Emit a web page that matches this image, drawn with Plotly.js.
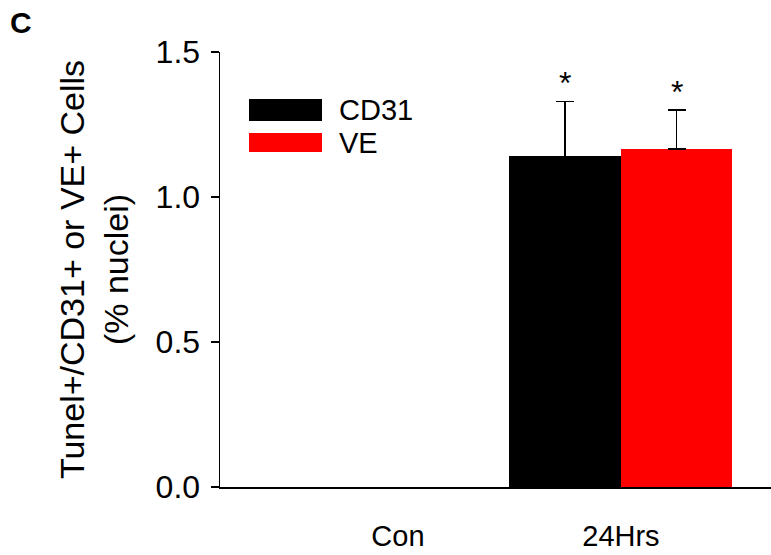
<!DOCTYPE html>
<html>
<head>
<meta charset="utf-8">
<script src="https://cdn.plot.ly/plotly-3.0.1.min.js"></script>
<style>html,body{margin:0;padding:0;background:#fff;}#chart{width:771px;height:555px;}</style>
</head>
<body>
<div id="chart"></div>
<script>
const categories = ["Con", "24Hrs"];
const seriesNames = ["CD31", "VE"];
const cd31Values = [0, 1.14];
const cd31Errors = [NaN, 0.19];
const veValues = [0, 1.165];
const veErrors = [NaN, 0.135];
const significance = ["", "*"];
const yTicks = [0, 0.5, 1.0, 1.5];
const yTickLabels = ["0.0", "0.5", "1.0", "1.5"];

const FONT = "Arial, 'Liberation Sans', sans-serif";
const xIdx = categories.map((c, i) => i);

const traces = [
  {
    type: "bar", name: seriesNames[0], x: xIdx, y: cd31Values,
    marker: {color: "#000000", line: {width: 0}},
    error_y: {type: "data", symmetric: false, array: cd31Errors, arrayminus: cd31Errors.map(e => isNaN(e) ? NaN : 0),
      color: "#000", thickness: 1.5, width: 9},
    showlegend: false
  },
  {
    type: "bar", name: seriesNames[1], x: xIdx, y: veValues,
    marker: {color: "#ff0000", line: {width: 0}},
    error_y: {type: "data", symmetric: false, array: veErrors, arrayminus: veErrors.map(e => isNaN(e) ? NaN : 0),
      color: "#000", thickness: 1.5, width: 9},
    showlegend: false
  }
];

const L = 220, T = 52, W = 551, H = 435;
const annotations = [];
xIdx.forEach((xi, i) => {
  if (significance[i]) {
    annotations.push({x: xi - 0.25, y: cd31Values[i] + cd31Errors[i], xref: "x", yref: "y",
      text: significance[i], showarrow: false, yanchor: "bottom", yshift: -2, font: {family: FONT, size: 32, color: "#000"}});
    annotations.push({x: xi + 0.25, y: veValues[i] + veErrors[i], xref: "x", yref: "y",
      text: significance[i], showarrow: false, yanchor: "bottom", yshift: -2, font: {family: FONT, size: 32, color: "#000"}});
  }
});
// panel label
annotations.push({x: (21 - L) / W, y: (T + H - 22) / H, xref: "paper", yref: "paper", xanchor: "center", yanchor: "middle",
  text: "<b>C</b>", showarrow: false, font: {family: FONT, size: 30, color: "#000"}});

// legend keys and labels
const legColors = ["#000000", "#ff0000"];
const shapes = [];
const legRows = [[99, 121], [133, 152]];
seriesNames.forEach((n, i) => {
  const [y0, y1] = legRows[i];
  shapes.push({type: "rect", xref: "paper", yref: "paper",
    x0: (249 - L) / W, x1: (322 - L) / W, y0: (T + H - y1) / H, y1: (T + H - y0) / H,
    fillcolor: legColors[i], line: {width: 0}});
  annotations.push({xref: "paper", yref: "paper", x: (337 - L) / W, y: (T + H - (y0 + y1) / 2) / H,
    xanchor: "left", yanchor: "middle", text: n, showarrow: false,
    font: {family: FONT, size: 29, color: "#000"}});
});

const layout = {
  width: 771, height: 555,
  margin: {l: L, r: 0, t: T, b: 555 - T - H},
  paper_bgcolor: "#fff", plot_bgcolor: "#fff",
  barmode: "group", bargap: 0, bargroupgap: 0,
  showlegend: false,
  font: {family: FONT, color: "#000"},
  xaxis: {
    range: [-0.798, 1.673], tickvals: xIdx, ticktext: categories,
    showgrid: false, zeroline: false, showline: true, linecolor: "#000", linewidth: 2,
    layer: "above traces",
    ticks: "", ticklabelstandoff: 22, tickfont: {family: FONT, size: 29, color: "#000"}
  },
  yaxis: {
    range: [0, 1.5], tickvals: yTicks, ticktext: yTickLabels,
    showgrid: false, zeroline: false, showline: true, linecolor: "#000", linewidth: 1.5,
    layer: "above traces",
    ticks: "outside", ticklen: 8, tickwidth: 1.5, tickcolor: "#000",
    tickfont: {family: FONT, size: 32, color: "#000"}, ticklabelstandoff: 4,
    title: {text: "Tunel+/CD31+ or VE+ Cells<br>(% nuclei)", standoff: 16,
      font: {family: FONT, size: 34, color: "#000"}}
  },
  annotations: annotations,
  shapes: shapes
};

Plotly.newPlot("chart", traces, layout, {displayModeBar: false, staticPlot: true});
</script>
</body>
</html>
